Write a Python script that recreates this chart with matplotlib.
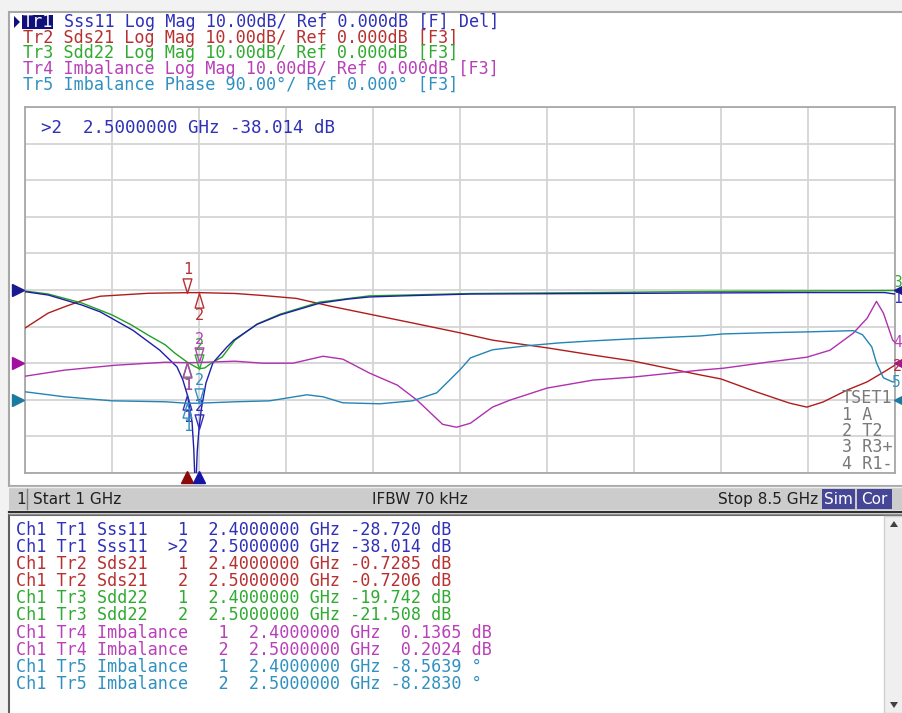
import numpy as np
import matplotlib
matplotlib.use("Agg")
import matplotlib.pyplot as plt
import matplotlib.transforms as mtransforms
from matplotlib.path import Path
from matplotlib.patches import Rectangle, Polygon

# ---------------- data ----------------
# Tr1 Sss11 (dB)
f_tr1 = [1.0, 1.2, 1.49, 1.65, 1.93, 2.16, 2.31, 2.36, 2.40, 2.44, 2.455, 2.465, 2.475,
         2.485, 2.50, 2.52, 2.56, 2.62, 2.74, 2.80, 3.0, 3.2, 3.54, 3.78, 3.97, 4.26,
         4.84, 5.96, 6.82, 7.68, 8.41, 8.5]
s11_db = [-0.46, -1.37, -4.1, -6.0, -11.0, -16.4, -21.0, -24.5, -28.72, -36.0, -43.5,
          -52.0, -52.0, -44.0, -38.0, -32.5, -25.4, -19.9, -15.6, -13.7, -9.4, -6.8,
          -3.6, -2.5, -1.9, -1.6, -1.1, -0.96, -0.82, -0.7, -0.7, -1.1]

# Tr2 Sds21 (dB)
f_tr2 = [1.0, 1.2, 1.34, 1.49, 1.65, 2.06, 2.40, 2.50, 2.81, 3.05, 3.34, 3.63, 4.0,
         4.34, 4.75, 5.03, 5.5, 5.9, 6.24, 6.82, 7.0, 7.31, 7.59, 7.74, 7.88, 8.09,
         8.26, 8.43, 8.5]
sds21_db = [-10.4, -6.3, -4.6, -2.9, -1.7, -0.9, -0.7285, -0.7206, -0.95, -1.5, -2.3,
            -4.4, -6.8, -9.0, -11.7, -13.7, -15.8, -17.8, -19.4, -23.2, -24.3, -27.9,
            -30.9, -32.0, -30.6, -27.3, -25.1, -21.9, -20.5]

# Tr3 Sdd22 (dB)
f_tr3 = [1.0, 1.2, 1.49, 1.75, 1.92, 2.06, 2.21, 2.29, 2.40, 2.47, 2.50, 2.55, 2.61,
         2.70, 2.81, 3.0, 3.2, 3.54, 3.97, 4.84, 5.96, 6.82, 7.68, 8.5]
sdd22_db = [-0.27, -1.1, -3.55, -6.8, -9.6, -12.3, -15.0, -17.2, -19.742, -21.0, -21.508,
            -21.3, -19.9, -18.3, -13.7, -9.3, -6.6, -3.3, -1.6, -0.96, -0.68, -0.41,
            -0.27, -0.14]

# Tr4 Imbalance magnitude (dB)
f_tr4 = [1.0, 1.34, 1.78, 2.21, 2.40, 2.50, 2.81, 3.05, 3.31, 3.57, 3.74, 3.97, 4.21,
         4.38, 4.60, 4.72, 4.84, 5.03, 5.18, 5.5, 5.9, 6.24, 6.82, 7.02, 7.4, 7.74,
         7.94, 8.14, 8.26, 8.34, 8.40, 8.48, 8.5]
imb_db = [-3.55, -1.9, -0.55, 0.27, 0.1365, 0.2024, 0.55, 0.0, 0.0, 1.9, 1.1, -2.7,
          -6.0, -10.1, -16.7, -17.5, -16.4, -12.0, -10.1, -6.8, -4.6, -3.8, -1.9, -1.37,
          0.27, 1.64, 3.55, 8.2, 12.3, 16.9, 13.7, 6.3, 5.7]

# Tr5 Imbalance phase (deg)
f_tr5 = [1.0, 1.34, 1.75, 2.21, 2.40, 2.50, 2.81, 3.11, 3.43, 3.57, 3.74, 4.06, 4.34,
         4.55, 4.75, 4.84, 5.03, 5.33, 5.61, 5.9, 6.24, 6.82, 7.02, 7.4, 7.74, 8.14,
         8.22, 8.30, 8.34, 8.40, 8.48, 8.5]
imb_deg = [19.7, 7.4, -2.5, -4.9, -8.5639, -8.2830, -4.9, -2.5, 12.3, 7.4, -7.4, -9.8,
           -2.5, 17.2, 73.8, 103.0, 123.0, 133.0, 140.0, 145.0, 150.0, 157.0, 162.0,
           165.0, 167.0, 170.0, 160.0, 130.0, 91.0, 54.0, 44.0, 44.0]

marker_freqs = [2.4, 2.5]
tr1_marker_vals = [-28.720, -38.014]
tr2_marker_vals = [-0.7285, -0.7206]
tr3_marker_vals = [-19.742, -21.508]
tr4_marker_vals = [0.1365, 0.2024]
tr5_marker_vals = [-8.5639, -8.2830]

header_lines = [
    "Sss11 Log Mag 10.00dB/ Ref 0.000dB [F] Del]",
    "Tr2 Sds21 Log Mag 10.00dB/ Ref 0.000dB [F3]",
    "Tr3 Sdd22 Log Mag 10.00dB/ Ref 0.000dB [F3]",
    "Tr4 Imbalance Log Mag 10.00dB/ Ref 0.000dB [F3]",
    "Tr5 Imbalance Phase 90.00\u00b0/ Ref 0.000\u00b0 [F3]",
]
table_trace = ["Tr1", "Tr1", "Tr2", "Tr2", "Tr3", "Tr3", "Tr4", "Tr4", "Tr5", "Tr5"]
table_param = ["Sss11", "Sss11", "Sds21", "Sds21", "Sdd22", "Sdd22",
               "Imbalance", "Imbalance", "Imbalance", "Imbalance"]
table_mk = [" 1", ">2", " 1", " 2", " 1", " 2", " 1", " 2", " 1", " 2"]
table_freq = ["2.4000000", "2.5000000"] * 5
table_val = ["-28.720", "-38.014", "-0.7285", "-0.7206", "-19.742", "-21.508",
             " 0.1365", " 0.2024", "-8.5639", "-8.2830"]
table_unit = ["dB"] * 8 + ["\u00b0"] * 2

# ---------------- style ----------------
W, H = 903, 713
C_LINE = ['#1e1ea8', '#b01c1c', '#22a022', '#b030b0', '#2484b4']
C_TEXT = ['#3030b8', '#b83030', '#30aa30', '#b840b8', '#3090c0']
MONO = 'DejaVu Sans Mono'
NARROW = ['Liberation Sans Narrow', 'DejaVu Sans']
CHW = 10.13  # character advance in pixels of the monospace text

fig = plt.figure(figsize=(W / 100, H / 100), dpi=100)
bg = fig.add_axes([0, 0, 1, 1], zorder=0)
bg.set_xlim(0, W)
bg.set_ylim(H, 0)
bg.axis('off')

# background panels
bg.add_patch(Rectangle((0, 0), W, H, fc='#f2f2f2', ec='none'))
bg.add_patch(Rectangle((9, 12), W, 474, fc='white', ec='#a8a8a8', lw=1.5))
bg.add_patch(Rectangle((9, 487), W, 23, fc='#cccccc', ec='none'))
bg.plot([9, W], [487, 487], color='#eeeeee', lw=1)
bg.plot([27.5, 27.5], [489, 509], color='#808080', lw=1)
bg.plot([9, W], [511.5, 511.5], color='#303030', lw=1.6)
bg.plot([9, W], [514, 514], color='#909090', lw=1)
bg.add_patch(Rectangle((9, 515), W, 200, fc='white', ec='#606060', lw=1.5))
# scrollbar
bg.add_patch(Rectangle((884, 516), 19, 197, fc='#efefef', ec='#d0d0d0', lw=1))
bg.add_patch(Polygon([(890, 527), (898, 527), (894, 521)], closed=True, fc='#404040', ec='none'))
bg.add_patch(Polygon([(890, 702), (898, 702), (894, 708)], closed=True, fc='#404040', ec='none'))

# header
bg.add_patch(Polygon([(14, 16), (14, 28), (20, 22)], closed=True, fc='#10107a', ec='none'))
bg.add_patch(Rectangle((22, 15), 31, 14, fc='#10107a', ec='none'))
bg.text(23, 27, "Tr1", color='white', fontsize=12.1, family=MONO, va='baseline')
for i, line in enumerate(header_lines):
    x0 = 23 + 4 * CHW if i == 0 else 23
    bg.text(x0, 27 + 15.6 * i, line, color=C_TEXT[i], fontsize=12.1, family=MONO,
            va='baseline')

# status bar
bg.text(16, 504, "1", fontsize=11, family=NARROW, color='#202020', va='baseline')
bg.text(33, 504, "Start 1 GHz", fontsize=11, family=NARROW, color='#202020', va='baseline')
bg.text(420, 504, "IFBW 70 kHz", fontsize=11, family=NARROW, color='#202020',
        va='baseline', ha='center')
bg.text(818, 504, "Stop 8.5 GHz", fontsize=11, family=NARROW, color='#202020',
        va='baseline', ha='right')
bg.add_patch(Rectangle((822, 489), 33, 20, fc='#464696', ec='none'))
bg.add_patch(Rectangle((857, 489), 35, 20, fc='#464696', ec='none'))
bg.text(838.5, 504, "Sim", fontsize=11, family=NARROW, color='white', va='baseline', ha='center')
bg.text(874.5, 504, "Cor", fontsize=11, family=NARROW, color='white', va='baseline', ha='center')

# marker table
row_color = [0, 0, 1, 1, 2, 2, 3, 3, 4, 4]
for i in range(10):
    s = "Ch1 %s %-5s  %s  %s GHz %s %s" % (table_trace[i], table_param[i], table_mk[i],
                                           table_freq[i], table_val[i], table_unit[i])
    bg.text(16, 535 + 17.1 * i, s, color=C_TEXT[row_color[i]], fontsize=12.1, family=MONO,
            va='baseline')

# ---------------- plot ----------------
ax = fig.add_axes([25 / W, 1 - 473 / H, 870 / W, 366 / H], zorder=2)
ax.set_facecolor('white')
ax.set_xlim(1, 8.5)
ax.set_ylim(-50, 50)
ax.set_xticks(np.linspace(1, 8.5, 11))
ax.set_yticks(np.linspace(-50, 50, 11))
ax.grid(True, color='#d4d4d4', lw=1.3)
ax.tick_params(length=0, labelbottom=False, labelleft=False)
for sp in ax.spines.values():
    sp.set_color('#a8a8a8')
    sp.set_linewidth(1.3)

ax4 = ax.twinx()
ax4.set_ylim(-30, 70)
ax4.axis('off')
ax5 = ax.twinx()
ax5.set_ylim(-180, 720)
ax5.axis('off')

ax.plot(f_tr2, sds21_db, color=C_LINE[1], lw=1.0, zorder=3)
ax.plot(f_tr3, sdd22_db, color=C_LINE[2], lw=1.0, zorder=3)
ax.plot(f_tr1, s11_db, color=C_LINE[0], lw=1.0, zorder=4)
ax4.plot(f_tr4, imb_db, color=C_LINE[3], lw=1.0)
ax5.plot(f_tr5, imb_deg, color=C_LINE[4], lw=1.0)

tri_dn = Path([(0, 0), (-0.3, 1), (0.3, 1), (0, 0)],
              [Path.MOVETO, Path.LINETO, Path.LINETO, Path.CLOSEPOLY])
tri_up = Path([(0, 0), (-0.3, -1), (0.3, -1), (0, 0)],
              [Path.MOVETO, Path.LINETO, Path.LINETO, Path.CLOSEPOLY])


def draw_marker(axx, f, v, label, above, color):
    axx.plot([f], [v], marker=tri_dn if above else tri_up, ms=21, mfc='none', mec=color,
             mew=1.0, ls='none', zorder=6, clip_on=False)
    axx.annotate(label, (f, v), xytext=(0, 11 if above else -11), textcoords='offset points',
                 ha='center', va='bottom' if above else 'top', color=color, fontsize=11,
                 family=MONO, zorder=6)


layout = [
    (ax, tr2_marker_vals, [True, False], 1),
    (ax4, tr4_marker_vals, [False, True], 3),
    (ax5, tr5_marker_vals, [False, True], 4),
    (ax, tr1_marker_vals, [False, True], 0),
    (ax, tr3_marker_vals, [False, True], 2),
]
for axx, vals, aboves, ci in layout:
    for k in range(2):
        draw_marker(axx, marker_freqs[k], vals[k], str(k + 1), aboves[k], C_TEXT[ci])

# active marker readout
ax.text(16 / 870, 1 - (133 - 107) / 366, ">2  2.5000000 GHz -38.014 dB",
        transform=ax.transAxes, fontsize=12.6, family=MONO, color=C_TEXT[0], va='baseline')

# stimulus markers at bottom
tb = mtransforms.blended_transform_factory(ax.transData, ax.transAxes)
ax.plot([marker_freqs[0]], [-0.012], marker='^', ms=8, color='#8b0a0a', transform=tb,
        clip_on=False, zorder=7)
ax.plot([marker_freqs[1]], [-0.012], marker='^', ms=8, color='#1515a5', transform=tb,
        clip_on=False, zorder=7)

# reference level triangles
for axx, col in [(ax, '#1a1a90'), (ax4, '#a0109f'), (ax5, '#1a7aa0')]:
    tl = mtransforms.blended_transform_factory(ax.transAxes, axx.transData)
    axx.plot([-0.008], [0], marker='>', ms=9, color=col, transform=tl, clip_on=False, zorder=7)
    axx.plot([1.0065], [0], marker='<', ms=10, color=col, transform=tl, clip_on=False, zorder=7)

# trace labels at right edge
fig.text(893 / W, 1 - 287 / H, "3", color=C_TEXT[2], fontsize=10.5, family=MONO, va='baseline', zorder=1)
fig.text(893 / W, 1 - 303 / H, "1", color=C_TEXT[0], fontsize=10.5, family=MONO, va='baseline', zorder=1)
fig.text(893 / W, 1 - 347 / H, "4", color=C_TEXT[3], fontsize=10.5, family=MONO, va='baseline', zorder=5)
fig.text(893 / W, 1 - 371 / H, "2", color=C_TEXT[1], fontsize=10.5, family=MONO, va='baseline', zorder=5)
fig.text(892 / W, 1 - 387 / H, "5", color=C_TEXT[4], fontsize=10.5, family=MONO, va='baseline', zorder=5)

# TSET block
tset = ["TSET1", "1 A", "2 T2", "3 R3+", "4 R1-"]
for i, s in enumerate(tset):
    fig.text(842 / W, 1 - (403 + 16.5 * i) / H, s, color='#7a7a7a', fontsize=12.1,
             family=MONO, va='baseline', zorder=5)

fig.savefig("out.png", dpi=100)
